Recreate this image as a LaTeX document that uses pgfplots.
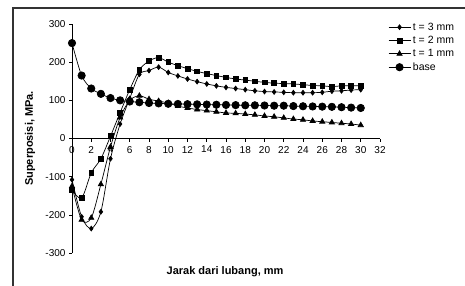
\documentclass[border=0pt]{standalone}
\usepackage{fontspec}
\setmainfont{Liberation Sans}
\usepackage{pgfplots}
\pgfplotsset{compat=1.18}
\begin{document}
\begin{tikzpicture}
\path[use as bounding box] (0,0) rectangle (465pt,285pt);
\clip (0,0) rectangle (465pt,285pt);
\draw[black!80, line width=1.3pt] (13pt,-20pt) rectangle (490pt,277pt);
\begin{axis}[
  at={(72pt,32pt)}, anchor=south west,
  scale only axis, width=308pt, height=229pt,
  xmin=0, xmax=32, ymin=-300, ymax=300,
  axis lines=middle, axis line style={-, line width=0.7pt},
  hide obscured x ticks=false, hide obscured y ticks=false,
  xtick={0,2,...,32}, ytick={-300,-200,...,300},
  tick align=outside, major tick length=3pt,
  tick style={black, line width=0.6pt},
  /pgf/number format/assume math mode=true,
  ticklabel style={font=\fontsize{10}{12}\selectfont},
  xticklabel style={yshift=-1pt},
  xlabel={\textbf{Jarak dari lubang, mm}},
  ylabel={\textbf{Superposisi, MPa.}},
  xlabel style={at={(axis description cs:0.497,-0.083)}, anchor=center, font=\fontsize{11}{13}\selectfont},
  ylabel style={at={(axis description cs:-0.136,0.5)}, rotate=90, anchor=center, font=\fontsize{11}{13}\selectfont},
  legend style={at={(axis description cs:1.026,1.015)}, anchor=north west, draw=none, fill=none,
    font=\fontsize{10.5}{12}\selectfont, row sep=0.5pt, inner sep=0pt},
  legend cell align=left,
  legend image code/.code={\draw[mark repeat=2,mark phase=2] plot coordinates {(0pt,0pt)(11pt,0pt)(22pt,0pt)};},
  every axis plot/.append style={black, line width=0.7pt, smooth, tension=0.5},
]
\addplot[mark=diamond*, mark size=2.4, mark options={solid}] coordinates {
(0,-108)(1,-205)(2,-236)(3,-192)(4,-53)(5,38)(6,105)(7,168)(8,178)(9,187)(10,173)
(11,164)(12,156)(13,149)(14,143)(15,138)(16,134)(17,131)(18,128)(19,125)(20,123)
(21,122)(22,121)(23,120)(24,120)(25,120)(26,121)(27,124)(28,125)(29,127)(30,128)};
\addlegendentry{t = 3 mm}
\addplot[mark=square*, mark size=2.4] coordinates {
(0,-135)(1,-156)(2,-90)(3,-53)(4,6)(5,68)(6,128)(7,180)(8,203)(9,212)(10,200)
(11,191)(12,183)(13,176)(14,170)(15,165)(16,160)(17,156)(18,153)(19,150)(20,147)
(21,145)(22,144)(23,143)(24,141)(25,139)(26,138)(27,136)(28,138)(29,138)(30,138)};
\addlegendentry{t = 2 mm}
\addplot[mark=triangle*, mark size=3] coordinates {
(0,-125)(1,-213)(2,-208)(3,-120)(4,-22)(5,55)(6,100)(7,112)(8,103)(9,98)(10,93)
(11,85)(12,80)(13,76)(14,73)(15,70)(16,67)(17,66)(18,64)(19,62)(20,59)
(21,57)(22,54)(23,51)(24,49)(25,46)(26,44)(27,42)(28,40)(29,38)(30,35)};
\addlegendentry{t = 1 mm}
\addplot[mark=*, mark size=3.7] coordinates {
(0,250)(1,165)(2,131)(3,117)(4,106)(5,100)(6,97)(7,95)(8,93)(9,92)(10,91)
(11,90.5)(12,90)(13,89.5)(14,89)(15,88.5)(16,88)(17,87.5)(18,87)(19,87)(20,86.5)
(21,86)(22,86)(23,85)(24,84.5)(25,84)(26,83.5)(27,83)(28,82)(29,81)(30,80)};
\addlegendentry{base}
\end{axis}
\end{tikzpicture}
\end{document}
